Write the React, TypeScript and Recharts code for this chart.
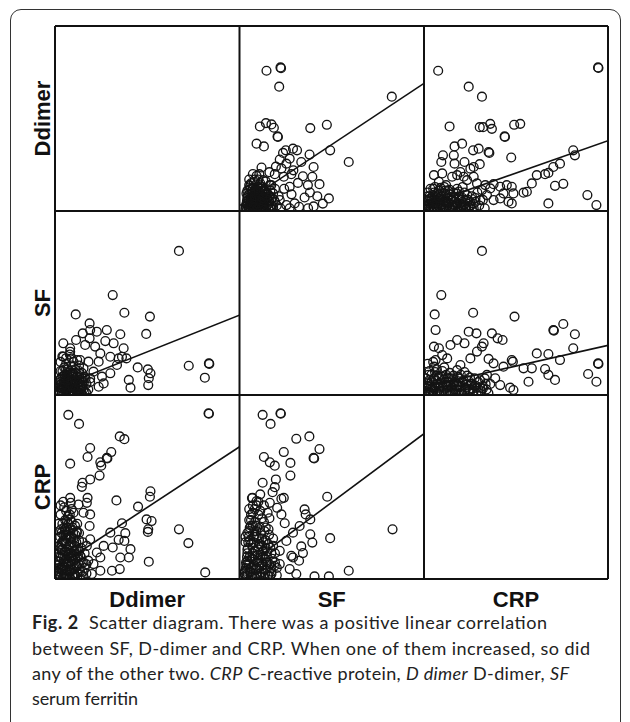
import React from 'react';
import { ScatterChart, Scatter, XAxis, YAxis, ReferenceLine } from 'recharts';

// Variables of the scatter matrix (order of rows and columns)
const variables = ['Ddimer', 'SF', 'CRP'];

// Each panel: x = column variable, y = row variable, values on a 0-100 scale of each variable's range
const sfVsDdimer: [number, number][] = [
  [14.4,75.8],[22.0,77.6],[22.3,77.2],[21.3,67.2],[82.5,61.8],
  [10.8,45.7],[14.1,47.5],[17.1,46.8],[18.4,45.0],[20.4,40.3],[20.6,40.0],
  [38.2,44.8],[47.2,46.6],[9.0,36.4],[13.0,34.9],
  [23.4,31.4],[24.9,32.8],[28.8,33.7],[31.0,32.8],[37.8,30.5],[49.0,32.8],[59.1,26.5],
  [21.6,27.8],[25.2,25.6],[27.0,28.3],[33.3,26.5],[40.0,23.8],[11.7,23.5],[10.5,19.9],
  [18.9,19.9],[23.8,18.5],[27.9,19.9],[34.2,18.8],[39.3,18.5],[43.2,14.5],[36.9,14.0],[31.5,15.2],[27.0,13.1],
  [48.3,6.8],[35.1,7.3],[29.7,4.1],[32.1,2.3],[25.2,3.2],[21.6,5.9],[18.0,9.5],[16.2,14.0],[12.6,16.7],
  [19.5,24],[22.5,23],[29,22],[16,21],[24,12],[28,9],[38,10],[42,8],[45,4],[27,1.5],[37,1.5],[40,2.5],
  [3,1],[4,3],[4.5,6],[5,9],[5.5,2],[6,12],[6.5,4],[7,7],[7.5,1],[8,10],[8.5,5],[9,2],[9.5,13],[10,7],
  [10.5,3],[11,10],[11.5,1],[12,5],[12.5,8],[13,2],[13.5,12],[14,6],[14.5,3],[15,9],[15.5,1],[16,5],
  [16.5,11],[17,3],[17.5,7],[18,2],[19,5],[20,3],[21,8],[22,1.5],[6,15],[8,17],[9,19],[11,15],[7,20],
  [5,14],[3.5,4],[4,11],[6,0.8],[9,8.5],[12,13],[14,16],[19,12],[17,14],
  [3.2,2.5],[3.8,5.5],[4.2,8],[4.8,1.2],[5.2,3.8],[5.8,6.5],[6.2,9.5],[6.8,2.2],[7.2,4.8],[7.8,8.2],
  [8.2,1.5],[8.8,3.5],[9.2,6],[9.8,10.5],[10.2,1],[10.8,4.5],[11.2,7.5],[11.8,2.8],[12.2,11],[12.8,5.5],
  [13.2,3.5],[13.8,9],[14.2,1.2],[14.8,6.8],[5,11.5],[7,12.5],[9,11.5],[11,12],[4,7],[6,5.5],[8,3],[10,9],
  [12,1.8],[3.5,9.5],[5.5,13.5],[7.5,15.5],[8.5,12],[10.5,14],[4.5,2],[6.5,7.5],[9.5,4],[11.5,5.8],[13,10.5],
  [15.5,3.8],[16,8],[17,1],[18.5,6],[7,10],[8,6.5],[9,1],[5,6],[6,2.8],
  [3.5,0.5],[5.5,0.7],[7.5,3.2],[9.5,0.8],[11.5,3.8],[13.5,0.6],[15.5,6],[4.2,4.2],[6.2,6.2],[8.2,8],
  [10.2,11],[12.2,7],[14.2,9.5],[16.5,2],[5,17],[10,17],
];

const crpVsDdimer: [number, number][] = [
  [7.7,75.8],[94.6,77.6],[94.8,77.3],[24.3,67.2],[31.5,61.8],[13.9,45.7],
  [30.3,45.3],[32.1,45.3],[36.0,47.1],[36.9,44.4],[49.0,46.6],[52.3,47.1],[43.8,40.3],[44.0,40.0],
  [16.6,34.9],[20.7,36.4],[26.7,32.8],[29.7,33.7],[35.1,31.9],[35.5,31.4],
  [10.3,30.1],[9.4,26.5],[16.2,30.1],[16.6,25.6],[22.0,26.5],[27.0,23.8],[30.3,25.3],[47.4,28.9],
  [81.1,32.8],[82.0,30.1],
  [73.9,25.6],[70.3,23.8],[67.6,20.6],[65.8,19.9],[61.3,19.4],[58.6,14.9],[55.9,10.4],[54.1,9.9],
  [75.7,14.7],[71.2,13.6],[88.8,8.6],[93.7,3.2],[67.6,4.1],
  [5.4,19.4],[8.1,15.8],[9.9,20.3],[15.3,18.5],[18,19.4],[19.8,21.1],[21.6,18.5],[23.4,16.7],[25.2,22.9],[27,18.5],
  [28.8,14.9],[33.3,14],[37.8,14.5],[41.4,13.1],[45,14],[47.7,13.1],[48.6,9.5],[43.2,9.5],[41.4,6.8],[47.7,4.1],
  [45.9,5],[37.8,5.9],[34.2,8.6],[30.6,5.9],[36,12.2],[31.5,11.3],
  [1.5,2],[2.5,5],[3,8],[4,1],[5,4],[5.5,10],[6.5,6],[7,2],[8,9],[9,3],[10,6],[11,1],[11.5,11],[12.5,4],
  [13,8],[14,2],[15,6],[16,10],[17,1.5],[18,4],[19,8],[20,2],[21,5],[22,10],[23,1],[24,6],[25,3],[26,8],
  [27,1.5],[28,5],[29,10],[30,3],[32,6],[33,1.5],[3.5,12],[6,13],[9,12.5],[12,14],[2,10],[14,11.5],[18,12],[21,13],
  [1.2,1],[2,3],[2.8,6.5],[3.5,2.5],[4.2,5.5],[4.8,8.5],[5.5,1.5],[6.2,4],[6.8,7.5],[7.5,3],[8.2,5.5],[8.8,1],
  [9.5,8],[10.2,3.5],[10.8,9.5],[11.5,5.5],[12.2,2],[12.8,7],[13.5,4.5],[14.2,9],[14.8,1],[15.5,3.5],[16.2,7.5],
  [16.8,5],[17.5,9.5],[18.2,2.5],[18.8,6.5],[19.5,4],[20.2,1],[21,7],[21.8,3.5],[22.5,6],[23.5,8.5],[24.2,2],
  [25,5],[26,1],[27,4],[28,7],[2,8],[5,12],[8,11],[11,13],[3,4],[6,1],[9,6.5],[13,11],[16,1.8],[19,10.5],[7,9.5],[1.5,6],
  [0.8,3],[3,0.8],[5,2.5],[7,0.5],[9,3],[11,0.7],[13,3],[15,0.5],[17,2.8],[19,0.8],[21,3],[23,0.6],[25,2.5],
  [4,6.5],[8,7],[12,5.5],[16,7],[20,6],
];

const ddimerVsSf: [number, number][] = [
  [67,78.3],[31.2,54.3],[11.2,43.8],[37.5,44.7],[51.3,42.6],[49.3,33.2],
  [18.7,38.9],[19,35.3],[22.6,34.4],[28,35.3],[35.3,33],[15,33.5],[11.4,29.9],
  [18.7,30.8],[27.2,29.3],[31.7,28.1],[4.5,28.1],[8.2,25.4],[16.3,27.2],[21.7,26.3],[37.1,25.4],
  [36.2,20.8],[34.4,19.9],[29.9,20.8],[24.5,22.6],[4.5,20.8],[9.1,19.9],[13.6,19],[18.1,18.1],[23.6,18.1],
  [44.7,15.0],[50.2,13.9],[51.6,11.8],[50.7,9.1],[72.3,15.9],[83.2,17.2],[83.4,16.9],[81,9.4],[39.9,8.2],[40.8,4.0],[50.4,5.4],
  [20.8,12.7],[25.4,10],[26.3,6.3],[23.6,4.5],[29.9,11.8],[33.5,16.3],[38.6,19.9],[19,9],[15.4,14.5],[8.2,23.5],
  [2,1],[2.5,4],[3,7],[3.5,2],[4,10],[4.5,5],[5,1.5],[5.5,8],[6,3],[6.5,11],[7,6],[7.5,1],[8,9],[8.5,4],[9,2],
  [9.5,12],[10,6],[10.5,1.5],[11,8],[11.5,3],[12,10],[12.5,5],[13,1],[13.5,7],[14,3],[14.5,12],[15,5],[16,2],
  [16.5,9],[17,6],[18,3],[19,7],[3,13],[5,15],[7,14],[9,16],[6,17],[11,14],[13,16],
  [2.2,2.5],[2.8,5.5],[3.2,9],[3.8,1],[4.2,3.5],[4.8,7],[5.2,11],[5.8,2],[6.2,5],[6.8,8.5],[7.2,1.5],[7.8,4],
  [8.2,6.5],[8.8,11],[9.2,1],[9.8,3.5],[10.2,8.5],[10.8,5],[11.2,12],[11.8,1.8],[12.2,6.5],[12.8,3],[13.2,9.5],
  [13.8,5],[14.2,1],[14.8,7.5],[15.2,3],[16,10],[17,1],[2.5,8],[4,13],[6,14],[8,13],[10,11],[3.5,6],[5,4],[7,10],
  [9,7.5],[11,4],[13,13],[15,9],[3,18],[4,21],[6,20],[8,22],[12,19],[10,18],
  [2.5,0.6],[4.5,0.8],[6.5,2.5],[8.5,0.6],[10.5,3.5],[12.5,0.7],[14.5,4],[3.2,4],[5.2,6],[7.2,8],[9.2,10],
  [11.2,7],[13.2,11.5],[15.5,6.5],[5,9.5],[7.5,12],
];

const crpVsSf: [number, number][] = [
  [31.5,78.3],[9.4,54.3],[5.8,43.8],[26.7,44.7],[49.2,42.6],[6.3,35.3],[24.3,34.4],[28.5,33.5],
  [36.9,33.5],[40,30.8],[42.7,29.9],[75.7,38.6],[70.3,35.3],[70.6,35.0],[82,33],
  [5.4,26.3],[8.1,25.4],[14.4,27.2],[18,29.9],[22,28.1],[28.8,23.6],[31.5,26.3],[32.4,28.1],
  [81.1,25.4],[61.3,22.6],[67.6,22.3],[73.9,19],[94.6,17.2],[94.8,16.9],[89.2,11.4],[93.7,7.2],
  [65.8,14.1],[67.6,10.9],[71.2,8.2],[54.1,14.5],[58.6,14.5],[56.8,7.2],
  [47.7,19],[48.3,18.1],[43.2,15.4],[37.8,17.2],[35.1,19.6],[25.2,19.9],[19.8,16.3],[12.6,19.9],[9.9,21.7],
  [5.4,15.4],[6.3,19],[46.8,4],[48.6,2.7],[41.4,5.4],[38.7,9.1],[34.2,10.9],
  [1,2],[2,5],[3,8],[3.5,1],[4.5,4],[5.5,9],[6.5,2],[7.5,6],[8.5,1.5],[9.5,10],[10.5,4],[11.5,7],[12.5,2],
  [13.5,9],[14.5,5],[15.5,1],[16.5,7],[17.5,3],[18.5,10],[19.5,5],[20.5,1.5],[21.5,8],[22.5,4],[23.5,10.5],
  [24.5,2],[25.5,6],[26.5,1],[27.5,9],[28.5,4],[29.5,7],[31,2],[32,5],[33,9],[34,3],[36,6],[2.5,11],[6,12.5],
  [10,13],[14,12],[18,13.5],[22,12.5],
  [0.8,1],[1.5,3.5],[2.2,6],[2.8,1.5],[3.5,4.5],[4.2,7.5],[5,2.5],[5.8,5.5],[6.5,8],[7.2,1],[8,4],[8.8,6.5],
  [9.5,2],[10.2,5],[11,8.5],[11.8,1],[12.5,4.5],[13.2,7],[14,2.5],[14.8,9],[15.5,4],[16.2,6],[17,1],[17.8,5],
  [18.5,7.5],[19.2,2.5],[20,4.5],[21,7],[22,2],[23,5.5],[24,8],[25,3],[26,6],[27,2],[28,5],[29.5,1.5],[30.5,8],
  [32,3.5],[33.5,6],[35,1],[1,9],[4,11],[8,10],[12,11],[16,10.5],[20,11],[3,13],[7,14],[11,15],[2,17],[5,18],
  [0.5,4],[2.5,0.6],[4.5,2],[6.5,4.5],[8.5,0.5],[10.5,2.5],[12.5,5.5],[14.5,0.6],[16.5,3],[18.5,5],[20.5,0.5],
  [22.5,3],[24.5,5],[26.5,3.5],[28.5,0.8],[30.5,4],[7,10.5],[13,9.5],[19,9],[25,9.5],
];

const ddimerVsCrp: [number, number][] = [
  [7.2,89.2],[13,84.3],[83,90.1],[83.2,89.8],[35,77.5],[37.5,76],
  [19,71.2],[17.6,66.3],[30.4,69],[28,65.8],[28.3,65.5],[8.2,62.7],
  [24.5,63.4],[25,61.6],[24.1,56.2],[19,54.1],[14.9,52.3],[14.5,50.1],
  [51.6,47.7],[51.3,44.7],[33.2,42.7],[8.2,44.1],[8.5,41.4],[17.6,44.1],[17.2,41.4],[12.7,40.5],
  [44.9,39.3],[36.2,30.3],[49.5,32.4],[52.2,31.5],[50.4,27],[50.2,25.6],[67,27],[72.1,19.5],[81.2,3.6],[50.7,9.4],
  [29.9,25.2],[38,24.9],[37.5,20.7],[34.4,21.3],[31.2,17.1],[40.8,16.2],[39.9,11.7],[35.3,11.7],[30.8,4.5],
  [35,5.4],[24.5,4.5],[20.8,8.1],[24.5,11.7],[22.6,14.4],[26.3,18],[19,21.6],[19,35.1],[18.7,28.8],[15.4,36],
  [10,36],[8.2,32.4],[5.4,27],[11.8,25.2],[19.9,2.7],[15.4,9],[13.6,12.6],[17.2,18],
  [2,2],[3,6],[3.5,11],[4,16],[4.5,21],[5,3],[5.5,26],[6,8],[6.5,31],[7,13],[7.5,18],[8,1],[8.5,23],[9,5],
  [9.5,28],[10,10],[10.5,15],[11,2],[11.5,20],[12,7],[12.5,12],[13,25],[13.5,4],[14,17],[14.5,9],[15,1.5],
  [3,35],[5,39],[7,34],[4,30],[6,24],[8,19],[10,22],[12,30],[2.5,14],[3.5,19],[4.5,1],[6,4.5],[7.5,8.5],
  [9,14],[11,11],[13,15],[15,20],[16,6],[17,3],[18,10],
  [1.5,1],[2,4],[2.5,8],[3,12],[3.5,16],[4,20],[4.5,24],[5,28],[5.5,32],[6,1.5],[6.5,5],[7,9],[7.5,14],[8,22],
  [8.5,27],[9,31],[9.5,2],[10,6],[10.5,18],[11,24],[11.5,7],[12,3],[12.5,16],[13,21],[2.2,18],[2.8,23],[3.3,27],
  [3.8,3],[4.3,7],[4.8,11],[5.3,15],[5.8,19],[6.3,22],[6.8,26],[7.3,30],[7.8,3.5],[8.3,7],[8.8,11],[9.3,17],
  [9.8,25],[10.3,13],[10.8,29],[11.3,16],[11.8,26],[2,30],[3,40],[4.5,42],[6,37],[8,35],[9,38],[14,12],[16,14],
  [13,8],[15,4],[17,8],[12,1],[14,2.5],
  [1.2,3],[1.8,6],[2.4,9.5],[3,1.5],[3.6,5],[4.2,13],[4.8,9],[5.4,6],[6,11],[6.6,2.5],[7.2,16],[7.8,12],
  [8.4,4.5],[9,8],[9.6,12.5],[10.2,3],[10.8,8.5],[2,12],[4,4.5],[6,14.5],[8,10],[10,1],[3,17],[5,20],[7,24],
  [9,20],[11,13.5],[1.5,22],[3.5,25],[6.5,28],
];

const sfVsCrp: [number, number][] = [
  [12.3,89.2],[22,90.1],[22.2,89.8],[16.6,84.3],[30.6,76.2],[37.7,77.5],[43.2,70.6],[40,65.8],[40.3,65.5],[23.8,69],
  [13,66.3],[16.2,63.4],[18.9,61.6],[27.4,63.1],[27.4,56.2],[12.3,52.3],[19.5,54.1],[18.9,49.9],[17.7,47.2],[47.4,44.7],
  [6.8,44.1],[9,42.3],[16.2,41.4],[22.5,43.6],[23.8,44.1],
  [35.1,37.8],[35.7,35.1],[38.2,32.4],[20.2,38.7],[22.5,35.1],[24.3,30.3],[82.9,27],[49,22.2],
  [38.2,24.3],[39.3,19.8],[33.3,17.7],[34.2,14.1],[27.9,12.6],[28.8,11.7],[32.1,9.9],
  [59.1,4.5],[48.3,1.4],[40.5,1.4],
  [32.4,28.8],[28.8,25.2],[25.2,20.7],[21.6,15.3],[21.6,8.1],[27,5.4],[30.6,2.7],[18.9,7.2],[17.1,2.7],
  [3,2],[3.5,8],[4,14],[4.5,20],[5,26],[5.5,4],[6,32],[6.5,11],[7,17],[7.5,23],[8,1],[8.5,29],[9,6],[9.5,13],
  [10,35],[10.5,19],[11,3],[11.5,25],[12,9],[12.5,15],[13,31],[13.5,5],[14,21],[14.5,12],[15,2],[15.5,27],
  [16,8],[16.5,17],[17,4],[17.5,11],[18,22],[5,38],[7,36],[9,40],[11,37],[6,29],[8,24],[4,10],[12,18],
  [14,28],[16,33],[19,14],[20,6],
  [2.2,1],[2.8,4.5],[3.3,9],[3.8,12],[4.3,17],[4.8,23],[5.3,28],[5.8,1.5],[6.3,6],[6.8,14],[7.3,20],[7.8,26],
  [8.3,31],[8.8,3],[9.3,9],[9.8,16],[10.3,22],[10.8,28],[11.3,1],[11.8,7],[12.3,12],[12.8,20],[13.3,26],[13.8,3],
  [14.3,9],[14.8,15],[15.3,19],[15.8,24],[16.3,1.5],[16.8,6],[3,20],[4,25],[5,32],[6,35],[7,40],[8,38],[10,42],
  [12,33],[9,26],[11,19],[7,11],[5,8],[4,3],[13,40],[17,14],[18,18],[19,9],[20,2],[15,36],[6.5,44],[11,46],
  [2.5,3],[3.2,6],[3.8,1.5],[4.5,8.5],[5.2,12],[5.8,4],[6.5,1],[7.2,7.5],[7.8,12.5],[8.5,5],[9.2,1.5],[9.8,10],
  [10.5,6.5],[11.2,13],[11.8,3.5],[12.5,8],[13.2,1],[13.8,11],[14.5,5.5],[15,9],[4,16],[6,19],[8,15],[10,17.5],
  [12,22],[14,17],[3,23],[5.5,21],[9,23],[7,29],
];

// Fit line end points (x, y) for each panel
const fitSfDdimer: [number, number][] = [[0, 3], [100, 69]];
const fitCrpDdimer: [number, number][] = [[0, 3], [100, 38]];
const fitDdimerSf: [number, number][] = [[0, 3.5], [100, 43.5]];
const fitCrpSf: [number, number][] = [[0, 4.5], [100, 27]];
const fitDdimerCrp: [number, number][] = [[0, 6], [100, 72]];
const fitSfCrp: [number, number][] = [[0, 4.5], [100, 79]];

const captionLines = [
  [{ t: 'Fig. 2', s: 'b' }, { t: '  Scatter diagram. There was a positive linear correlation', s: 'n' }],
  [{ t: 'between SF, D-dimer and CRP. When one of them increased, so did', s: 'n' }],
  [
    { t: 'any of the other two. ', s: 'n' }, { t: 'CRP', s: 'i' }, { t: ' C-reactive protein, ', s: 'n' },
    { t: 'D dimer', s: 'i' }, { t: ' D-dimer, ', s: 'n' }, { t: 'SF', s: 'i' },
  ],
  [{ t: 'serum ferritin', s: 'n' }],
];
const captionWidths = [515, 558, 537, 106];
const captionBaselines = [629, 655, 680, 705];

const colX = [55, 239.5, 424, 608];
const rowY = [26, 211, 395, 579];

type Panel = { r: number; c: number; pts: [number, number][]; fit: [number, number][] };
const panels: Panel[] = [
  { r: 0, c: 1, pts: sfVsDdimer, fit: fitSfDdimer },
  { r: 0, c: 2, pts: crpVsDdimer, fit: fitCrpDdimer },
  { r: 1, c: 0, pts: ddimerVsSf, fit: fitDdimerSf },
  { r: 1, c: 2, pts: crpVsSf, fit: fitCrpSf },
  { r: 2, c: 0, pts: ddimerVsCrp, fit: fitDdimerCrp },
  { r: 2, c: 1, pts: sfVsCrp, fit: fitSfCrp },
];

const Ring = (props: any) => {
  const { cx, cy } = props;
  if (cx == null || cy == null) return null;
  return <circle cx={cx} cy={cy} r={4.4} fill="none" stroke="#141414" strokeWidth={1.35} />;
};

const PanelChart = ({ p }: { p: Panel }) => {
  const left = Math.round(colX[p.c]);
  const top = Math.round(rowY[p.r]);
  const w = Math.round(colX[p.c + 1]) - left;
  const h = Math.round(rowY[p.r + 1]) - top;
  const data = p.pts.map(([x, y]) => ({ x, y }));
  return (
    <div style={{ position: 'absolute', left, top, width: w, height: h, overflow: 'hidden' }}>
      <ScatterChart width={w} height={h} margin={{ top: 0, right: 0, bottom: 0, left: 0 }}>
        <XAxis type="number" dataKey="x" domain={[0, 100]} hide />
        <YAxis type="number" dataKey="y" domain={[0, 100]} hide />
        <Scatter data={data} shape={Ring} isAnimationActive={false} />
        <ReferenceLine
          segment={[{ x: p.fit[0][0], y: p.fit[0][1] }, { x: p.fit[1][0], y: p.fit[1][1] }]}
          stroke="#111"
          strokeWidth={1.6}
        />
      </ScatterChart>
    </div>
  );
};

export default function App() {
  const labelFont = "'Liberation Sans', Arial, Helvetica, sans-serif";
  return (
    <div style={{ position: 'absolute', left: 0, top: 0, width: 630, height: 722, overflow: 'hidden', background: '#fff' }}>
      <div style={{ position: 'absolute', left: 10, top: 9, width: 611, height: 760, border: '1px solid #333', borderRadius: 11, boxSizing: 'border-box' }} />
      {panels.map((p, i) => <PanelChart key={i} p={p} />)}
      <svg width={630} height={722} style={{ position: 'absolute', left: 0, top: 0, pointerEvents: 'none' }}>
        {colX.map((x, i) => (
          <line key={'v' + i} x1={x} x2={x} y1={rowY[0]} y2={rowY[3]} stroke="#111" strokeWidth={2} />
        ))}
        {rowY.map((y, i) => (
          <line key={'h' + i} x1={colX[0]} x2={colX[3]} y1={y} y2={y} stroke="#111" strokeWidth={2} />
        ))}
        {variables.map((v, i) => (
          <text key={'r' + v} transform={`translate(50,${(rowY[i] + rowY[i + 1]) / 2}) rotate(-90)`}
            textAnchor="middle" fontFamily={labelFont} fontWeight="bold" fontSize={22} fill="#111">{v}</text>
        ))}
        {variables.map((v, i) => (
          <text key={'c' + v} x={(colX[i] + colX[i + 1]) / 2} y={607}
            textAnchor="middle" fontFamily={labelFont} fontWeight="bold" fontSize={22} fill="#111">{v}</text>
        ))}
        {captionLines.map((line, i) => (
          <text key={'cap' + i} x={32} y={captionBaselines[i]} textLength={captionWidths[i]} lengthAdjust="spacing"
            fontFamily="Lato, 'Open Sans', sans-serif" fontSize={18} fill="#222" xmlSpace="preserve">
            {line.map((seg, j) => (
              <tspan key={j} fontWeight={seg.s === 'b' ? 'bold' : 'normal'} fontStyle={seg.s === 'i' ? 'italic' : 'normal'}>{seg.t}</tspan>
            ))}
          </text>
        ))}
      </svg>
    </div>
  );
}
